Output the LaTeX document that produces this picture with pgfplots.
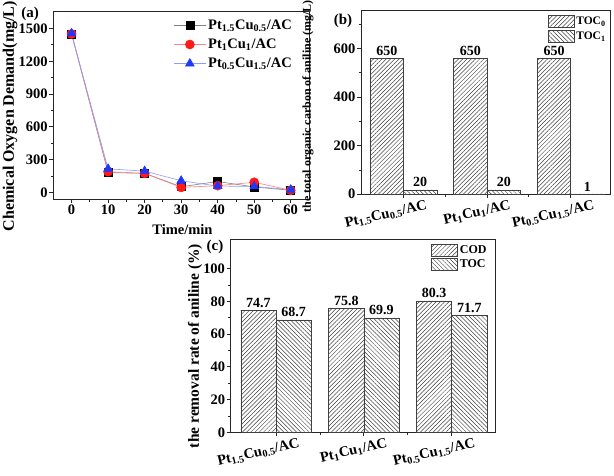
\documentclass[border=0pt]{standalone}
\usepackage{pgfplots}
\pgfplotsset{compat=1.18}
\usepackage{fontspec}
\setmainfont{Liberation Serif}
\usetikzlibrary{patterns.meta}
\definecolor{myred}{RGB}{255,25,25}
\definecolor{myblue}{RGB}{30,55,255}
\newcommand{\cat}[2]{Pt\textsubscript{#1}Cu\textsubscript{#2}/AC}
\newcommand{\fs}[1]{\fontsize{#1}{#1}\selectfont\bfseries}

\pgfplotsset{
  common/.style={
    scale only axis, anchor=south west,
    tick align=outside, tick pos=left,
    major tick length=4pt, minor tick length=2.5pt,
    /pgf/number format/assume math mode=true,
    /pgf/number format/1000 sep={},
    tick label style={font=\fs{14.5}, inner sep=1.5pt},
    axis line style={line width=0.8pt, black!85},
    tick style={line width=0.8pt, black!85},
    legend cell align=left,
  },
  barlegend/.style={legend image code/.code={\draw[##1] (0pt,-6pt) rectangle (26pt,6pt);}},
  rotlabels/.style={x tick label style={xshift=22pt, yshift=-1pt, rotate=13, anchor=north east, inner sep=0pt}},
}
\begin{document}
\begin{tikzpicture}
\path[use as bounding box] (0pt,0pt) rectangle (614pt,475pt);

% ---------------- (a)
\begin{axis}[common,
  at={(53.3pt,276pt)}, width=255.7pt, height=188pt,
  xmin=-5, xmax=65, ymin=-60, ymax=1660,
  xtick={0,10,...,60}, ytick={0,300,...,1500},
  minor x tick num=1, minor y tick num=1,
  xlabel={Time/min}, ylabel={Chemical Oxygen Demand(mg/L)},
  xlabel style={font=\fs{14.5}, at={(axis description cs:0.505,-0.165)}, anchor=center},
  ylabel style={font=\fs{16}, at={(axis description cs:-0.169,0.44)}, anchor=center},
  legend style={at={(axis description cs:0.945,0.97)}, anchor=north east,
    draw=none, fill=none, font=\fs{14.5}, row sep=4pt, inner sep=1pt},
  legend image code/.code={\draw[mark repeat=2,mark phase=2,#1] plot coordinates {(0pt,0pt) (16pt,0pt) (32pt,0pt)};},
]
\addplot[color=gray, line width=0.6pt, mark=square*, mark size=4pt,
  mark options={fill=black, draw=black, solid}]
  coordinates {(0,1450) (10,182) (20,175) (30,52) (40,100) (50,50) (60,20)};
\addlegendentry{\cat{1.5}{0.5}}
\addplot[color=myred!55, line width=0.6pt, mark=*, mark size=4.5pt,
  mark options={fill=myred, draw=myred, solid}]
  coordinates {(0,1450) (10,190) (20,175) (30,46) (40,62) (50,93) (60,20)};
\addlegendentry{\cat{1}{1}}
\addplot[color=myblue!50, line width=0.6pt, mark=triangle*, mark size=5pt,
  mark options={fill=myblue, draw=myblue, solid}]
  coordinates {(0,1455) (10,216) (20,195) (30,107) (40,58) (50,55) (60,25)};
\addlegendentry{\cat{0.5}{1.5}}
\end{axis}

% ---------------- (b)
\begin{axis}[common, rotlabels,
  at={(361pt,280.8pt)}, width=249pt, height=183.3pt,
  xmin=-0.508, xmax=2.47, ymin=0, ymax=755,
  xtick={0,1,2}, minor xtick={0.5,1.5},
  xticklabels={\cat{1.5}{0.5},\cat{1}{1},\cat{0.5}{1.5}},
  ytick={0,200,400,600}, minor ytick={100,300,500,700},
  ylabel={the total organic carbon of aniline (mg/L)},
  ylabel style={font=\fs{12}, at={(axis description cs:-0.213,0.48)}, anchor=center},
  legend style={at={(axis description cs:0.995,0.985)}, anchor=north east,
    draw=none, fill=none, font=\fs{11.5}, row sep=2pt, inner sep=1pt},
]
\addplot[ybar, bar width=0.4, bar shift=-0.2, draw=black!75, line width=0.6pt,
  pattern={Lines[angle=45,distance=3pt,line width=0.5pt]}, pattern color=black!75,
  nodes near coords, point meta=explicit symbolic,
  nodes near coords style={font=\fs{14}, inner sep=2.5pt, xshift=-16.7pt}, barlegend]
  coordinates {(0,560)[650] (1,560)[650] (2,560)[650]};
\addlegendentry{TOC\textsubscript{0}}
\addplot[ybar, bar width=0.4, bar shift=0.2, draw=black!75, line width=0.6pt,
  pattern={Lines[angle=-45,distance=3pt,line width=0.5pt]}, pattern color=black!75,
  nodes near coords, point meta=explicit symbolic,
  nodes near coords style={font=\fs{14}, inner sep=2.5pt, xshift=16.7pt}, barlegend]
  coordinates {(0,18)[20] (1,18)[20] (2,1)[1]};
\addlegendentry{TOC\textsubscript{1}}
\end{axis}

% ---------------- (c)
\begin{axis}[common, rotlabels,
  at={(230.7pt,42.7pt)}, width=264.3pt, height=193pt,
  xmin=-0.516, xmax=2.493, ymin=0, ymax=118,
  xtick={0,1,2}, minor xtick={0.5,1.5},
  xticklabels={\cat{1.5}{0.5},\cat{1}{1},\cat{0.5}{1.5}},
  ytick={0,20,...,100}, minor y tick num=1,
  ylabel={the removal rate of aniline (\%)},
  ylabel style={font=\fs{15.5}, at={(axis description cs:-0.135,0.447)}, anchor=center},
  legend style={at={(axis description cs:0.98,0.985)}, anchor=north east,
    draw=none, fill=none, font=\fs{12}, row sep=1pt, inner sep=1pt},
]
\addplot[ybar, bar width=0.4, bar shift=-0.2, draw=black!75, line width=0.6pt,
  pattern={Lines[angle=45,distance=3pt,line width=0.5pt]}, pattern color=black!75,
  nodes near coords, point meta=explicit symbolic,
  nodes near coords style={font=\fs{14}, inner sep=2.5pt, xshift=-17.6pt}, barlegend]
  coordinates {(0,74.7)[74.7] (1,75.8)[75.8] (2,80.3)[80.3]};
\addlegendentry{COD}
\addplot[ybar, bar width=0.4, bar shift=0.2, draw=black!75, line width=0.6pt,
  pattern={Lines[angle=-45,distance=3pt,line width=0.5pt]}, pattern color=black!75,
  nodes near coords, point meta=explicit symbolic,
  nodes near coords style={font=\fs{14}, inner sep=2.5pt, xshift=17.6pt}, barlegend]
  coordinates {(0,68.7)[68.7] (1,69.9)[69.9] (2,71.7)[71.7]};
\addlegendentry{TOC}
\end{axis}

\node[font=\fs{15}] at (30pt,461pt) {(a)};
\node[font=\fs{15}] at (343pt,454pt) {(b)};
\node[font=\fs{15}] at (215pt,228pt) {(c)};
\end{tikzpicture}
\end{document}
